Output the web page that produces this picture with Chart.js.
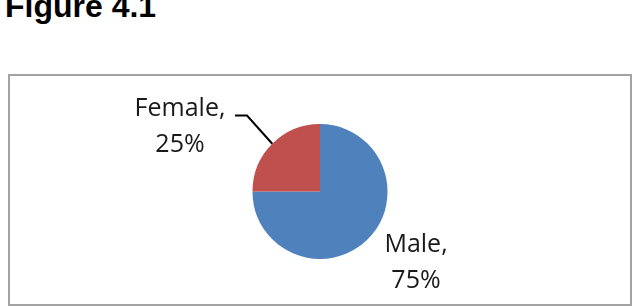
<!DOCTYPE html>
<html>
<head>
<meta charset="utf-8">
<script src="https://cdn.jsdelivr.net/npm/chart.js@4"></script>
<style>
    body { margin: 0; background: #fff; width: 641px; height: 306px; overflow: hidden; position: relative; }
    #title { position: absolute; left: 5px; top: -12px; font: bold 32px "Liberation Sans", Arial, sans-serif; color: #000; white-space: nowrap; }
    #box { position: absolute; left: 8px; top: 74px; width: 620px; height: 228px; border: 2px solid #a3a3a3; }
    canvas { display: block; }
</style>
</head>
<body>
<div id="title">Figure 4.1</div>
<div id="box"><canvas id="pieChart" width="620" height="228"></canvas></div>
<script>
const categories = ['Male', 'Female'];
const shares = [75, 25];
const sliceColors = ['#4f81bd', '#c0504d'];

// label placement relative to the pie centre (px)
const labelSpots = {
    Male:   { dx: 96,   dy: 60,  leader: null },
    Female: { dx: -140, dy: -76, leader: [[-73, -76], [-85, -76]] }
};

const sliceLabels = {
    id: 'sliceLabels',
    afterDatasetsDraw(chart) {
        const ctx = chart.ctx;
        const arcs = chart.getDatasetMeta(0).data;
        ctx.save();
        ctx.font = '25px "Open Sans", sans-serif';
        ctx.fillStyle = '#1a1a1a';
        ctx.textAlign = 'center';
        ctx.textBaseline = 'alphabetic';
        arcs.forEach((arc, i) => {
            const name = categories[i];
            const spot = labelSpots[name];
            const cx = arc.x, cy = arc.y;
            if (spot.leader) {
                const mid = (arc.startAngle + arc.endAngle) / 2;
                ctx.beginPath();
                ctx.strokeStyle = '#000';
                ctx.lineWidth = 2;
                ctx.moveTo(cx + Math.cos(mid) * arc.outerRadius, cy + Math.sin(mid) * arc.outerRadius);
                spot.leader.forEach(p => ctx.lineTo(cx + p[0], cy + p[1]));
                ctx.stroke();
            }
            ctx.fillText(name + ',', cx + spot.dx, cy + spot.dy);
            ctx.fillText(shares[i] + '%', cx + spot.dx, cy + spot.dy + 36);
        });
        ctx.restore();
    }
};

new Chart(document.getElementById('pieChart').getContext('2d'), {
    type: 'pie',
    data: {
        labels: categories,
        datasets: [{
            data: shares,
            backgroundColor: sliceColors,
            borderWidth: 0
        }]
    },
    options: {
        responsive: false,
        animation: false,
        layout: { padding: { top: 48, bottom: 45, left: 0, right: 0 } },
        plugins: {
            legend: { display: false },
            tooltip: { enabled: false }
        }
    },
    plugins: [sliceLabels]
});
</script>
</body>
</html>
